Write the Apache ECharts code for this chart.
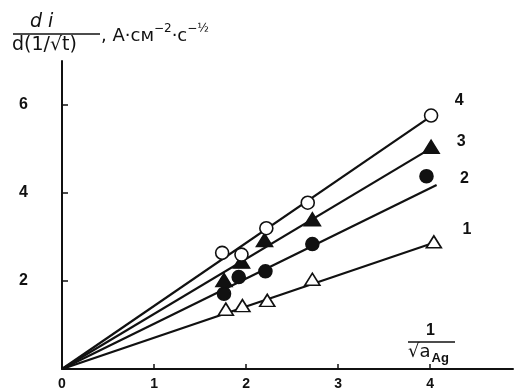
<!DOCTYPE html>
<html>
<head>
<meta charset="utf-8">
<script src="https://cdn.jsdelivr.net/npm/echarts@6/dist/echarts.min.js"></script>
<style>html,body{margin:0;padding:0;background:#fff}#c{width:514px;height:391px}</style>
</head>
<body>
<div id="c"></div>
<script>
// ---- data ----
const xTickLabels = ['0', '1', '2', '3', '4'];
const yTickLabels = ['2', '4', '6'];
const seriesNames = ['1', '2', '3', '4'];

const s1x = [1.78, 1.96, 2.23, 2.72, 4.04];
const s1y = [1.36, 1.44, 1.56, 2.04, 2.89];
const s2x = [1.76, 1.92, 2.21, 2.72, 3.96];
const s2y = [1.71, 2.09, 2.22, 2.84, 4.38];
const s3x = [1.76, 1.95, 2.20, 2.72, 4.01];
const s3y = [2.02, 2.44, 2.93, 3.40, 5.05];
const s4x = [1.74, 1.95, 2.22, 2.67, 4.01];
const s4y = [2.64, 2.60, 3.20, 3.78, 5.76];

// straight lines drawn from the origin to these end points
const lineEndX = [4.00, 4.07, 3.98, 4.00];
const lineEndY = [2.84, 4.18, 4.98, 5.73];

// ---- chart ----
const ink = '#111';
const chart = echarts.init(document.getElementById('c'), null, {renderer: 'canvas'});

const xs = [s1x, s2x, s3x, s4x];
const ys = [s1y, s2y, s3y, s4y];
const markers = [
  {symbol: 'triangle', size: [15, 12], fill: '#fff'},
  {symbol: 'circle', size: 13, fill: ink},
  {symbol: 'triangle', size: [16, 13], fill: ink},
  {symbol: 'circle', size: 13, fill: '#fff'}
];
const labelOffsets = [[33, -12], [38, 2], [30, -5], [28, -15]];

const series = [];
for (let i = 0; i < 4; i++) {
  series.push({
    type: 'line',
    data: [[0, 0], [lineEndX[i], lineEndY[i]]],
    symbol: 'none',
    lineStyle: {color: ink, width: 2.2},
    silent: true,
    z: 2
  });
}
for (let i = 0; i < 4; i++) {
  const m = markers[i];
  const data = xs[i].map((x, k) => {
    const item = {value: [x, ys[i][k]]};
    if (k === xs[i].length - 1) {
      item.label = {
        show: true,
        formatter: seriesNames[i],
        position: 'inside',
        offset: labelOffsets[i],
        color: ink,
        fontSize: 16,
        fontWeight: 'bold',
        fontFamily: 'Liberation Sans'
      };
    }
    return item;
  });
  series.push({
    name: seriesNames[i],
    type: 'scatter',
    data: data,
    symbol: m.symbol,
    symbolSize: m.size,
    itemStyle: {color: m.fill, borderColor: ink, borderWidth: 1.6, opacity: 1},
    z: 3
  });
}

chart.setOption({
  animation: false,
  backgroundColor: '#fff',
  grid: {left: 62, right: 1, top: 61, bottom: 15, containLabel: false},
  xAxis: {
    type: 'value', min: 0, max: 4.9, interval: 1,
    axisLine: {show: true, lineStyle: {color: ink, width: 2}},
    axisTick: {show: true, inside: true, length: 5, lineStyle: {color: ink, width: 1.5}},
    splitLine: {show: false},
    axisLabel: {
      margin: 8, color: ink, fontSize: 14, fontWeight: 'bold', fontFamily: 'Liberation Sans',
      showMaxLabel: false,
      formatter: v => (Number.isInteger(v) && xTickLabels.includes(String(v))) ? String(v) : ''
    }
  },
  yAxis: {
    type: 'value', min: 0, max: 7, interval: 2,
    axisLine: {show: true, lineStyle: {color: ink, width: 2}},
    axisTick: {show: true, inside: true, length: 6, lineStyle: {color: ink, width: 1.5}},
    splitLine: {show: false},
    axisLabel: {
      margin: 34, color: ink, fontSize: 16, fontWeight: 'bold', fontFamily: 'Liberation Sans',
      showMaxLabel: false,
      formatter: v => yTickLabels.includes(String(v)) ? String(v) : ''
    }
  },
  series: series,
  graphic: [
    // y-axis name: di / d(1/√t), А·см⁻²·с⁻½
    {type: 'text', left: 30, top: 13, style: {text: 'd i', fill: ink, font: 'italic 19px "DejaVu Sans"'}},
    {type: 'line', shape: {x1: 13, y1: 34, x2: 100, y2: 34}, style: {stroke: ink, lineWidth: 1.5}},
    {type: 'text', left: 12, top: 36, style: {text: 'd(1/√t)', fill: ink, font: '19px "DejaVu Sans"'}},
    {type: 'text', left: 101, top: 23, style: {
      text: '{n|, А·см}{s|−2}{n|·с}{s|−½}',
      rich: {
        n: {fill: ink, font: '18px "DejaVu Sans"', verticalAlign: 'bottom', lineHeight: 22},
        s: {fill: ink, font: '12px "DejaVu Sans"', verticalAlign: 'top', lineHeight: 22}
      }
    }},
    // x-axis name: 1 / √a_Ag
    {type: 'text', left: 426, top: 323, style: {text: '1', fill: ink, font: 'bold 16px "Liberation Sans"'}},
    {type: 'line', shape: {x1: 408, y1: 342, x2: 455, y2: 342}, style: {stroke: ink, lineWidth: 1.5}},
    {type: 'text', left: 408, top: 343, style: {
      text: '{n|√a}{s|Ag}',
      rich: {
        n: {fill: ink, font: '18px "DejaVu Sans"', verticalAlign: 'top', lineHeight: 22},
        s: {fill: ink, font: 'bold 13px "Liberation Sans"', verticalAlign: 'bottom', lineHeight: 22, padding: [8, 0, 0, 1]}
      }
    }}
  ]
});
</script>
</body>
</html>
